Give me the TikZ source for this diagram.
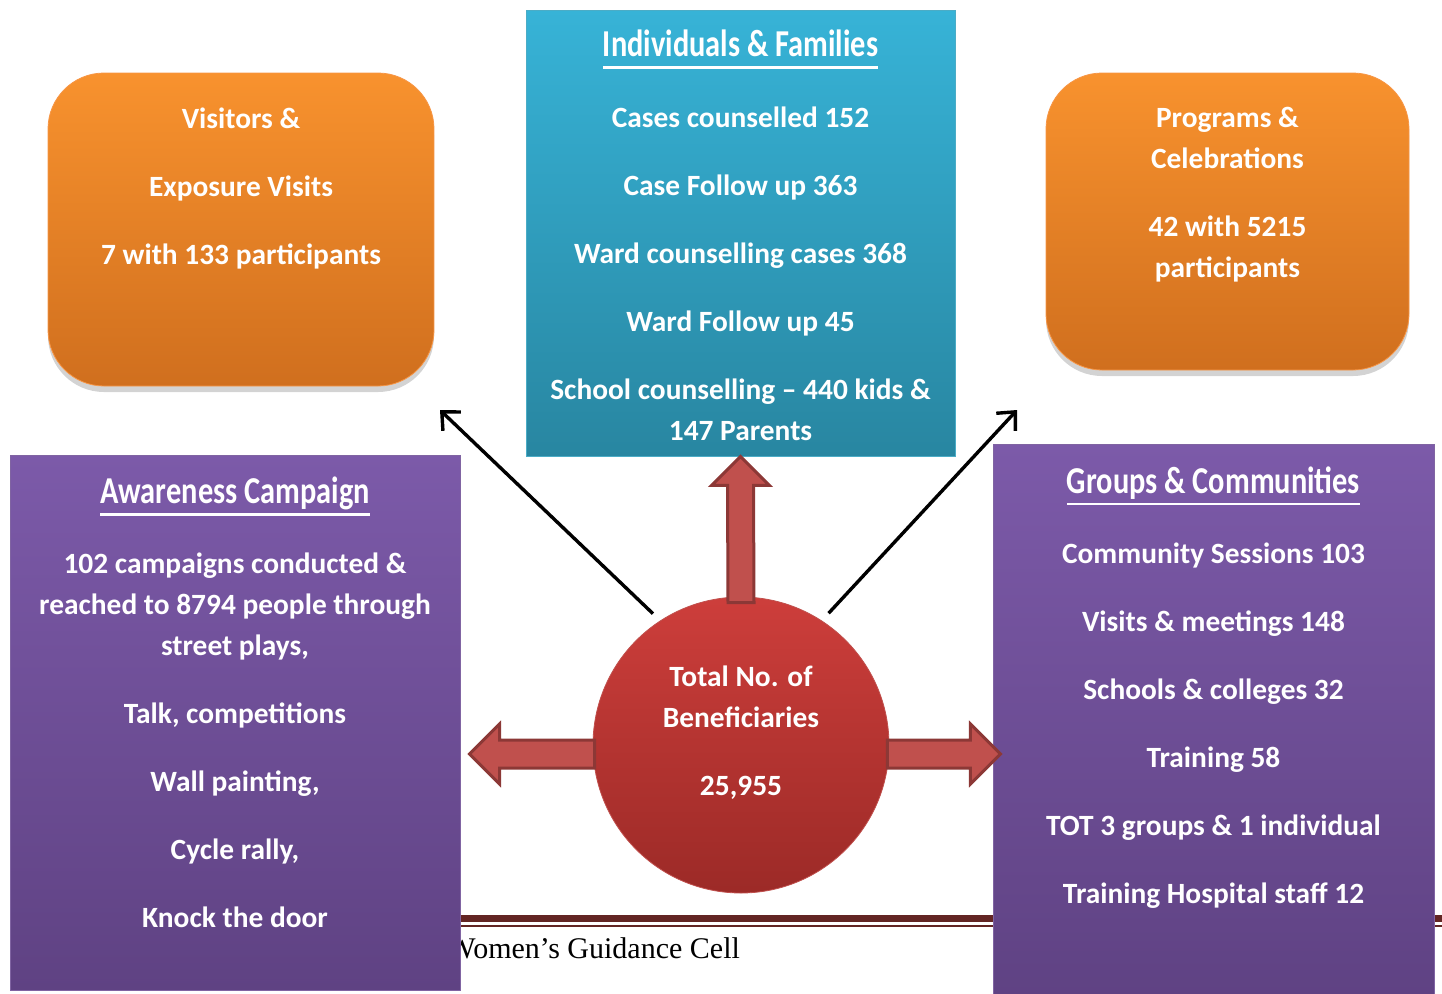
\documentclass[tikz,border=0pt]{standalone}
\usepackage{fontspec}
\setmainfont{Carlito}
\newfontfamily\headfont[FakeStretch=0.8]{Carlito}
\newfontfamily\footfont{Liberation Serif}
\usepackage{tikz}
\usetikzlibrary{positioning,shadows,calc,arrows.meta}

\definecolor{orangetop}{HTML}{F8922E}
\definecolor{orangebot}{HTML}{D06F1E}
\definecolor{orangeedge}{HTML}{F79646}
\definecolor{bluetop}{HTML}{37B3D7}
\definecolor{bluebot}{HTML}{2886A1}
\definecolor{blueedge}{HTML}{4BACC6}
\definecolor{purpletop}{HTML}{7C5AA9}
\definecolor{purplebot}{HTML}{5F4283}
\definecolor{purpleedge}{HTML}{8064A2}
\definecolor{redtop}{HTML}{CD3E3B}
\definecolor{redbot}{HTML}{9C2A27}
\definecolor{rededge}{HTML}{C0504D}
\definecolor{arrowfill}{HTML}{C0504D}
\definecolor{arrowedge}{HTML}{8C3836}
\definecolor{footline}{HTML}{632523}

\newcommand\headline[1]{{\setbox0\hbox{#1}\rlap{\rule[-6pt]{\wd0}{1.3pt}}\box0}}

\begin{document}
\begin{tikzpicture}[x=0.5pt,y=-0.5pt,>={Straight Barb[length=7pt,width=13pt]},
                    orangebox/.style={rounded corners=28pt,top color=orangetop,bottom color=orangebot,
                      draw=orangeedge,drop shadow={opacity=0.35,shadow xshift=0pt,shadow yshift=-3pt}},
                    bluebox/.style={top color=bluetop,bottom color=bluebot,draw=blueedge},
                    purplebox/.style={top color=purpletop,bottom color=purplebot,draw=purpleedge},
                    redcircle/.style={circle,top color=redtop,bottom color=redbot,draw=rededge},
                    bodytext/.style={text=white,font=\fontsize{14.7}{20.5}\selectfont\bfseries,
                      align=center,inner sep=0pt},
                    headtext/.style={text=white,font=\fontsize{19}{24}\selectfont\headfont\bfseries,
                      inner sep=0pt},
                    fatarrow/.style={fill=arrowfill,draw=arrowedge,line width=1.5pt},
                    thinarrow/.style={->,line width=1.7pt,shorten <=5pt}]
  \useasboundingbox (0,0) rectangle (1442,993);

  % footer
  \draw[footline,line width=3.5pt] (460,918.5) -- (1442,918.5);
  \draw[footline,line width=1pt] (460,926) -- (1442,926);
  \node[font=\footfont\fontsize{15}{18}\selectfont,anchor=base west,inner sep=0pt]
       (cell) at (447,958) {Women’s Guidance Cell};

  % boxes
  \node[orangebox,minimum width=193pt,minimum height=156.5pt] (visit) at (241,229.5) {};
  \node[orangebox,minimum width=181.5pt,minimum height=148.5pt] (prog) at (1227.5,221.5) {};
  \node[bluebox,minimum width=214.5pt,minimum height=223pt] (ind) at (740.5,233) {};
  \node[purplebox,minimum width=225pt,minimum height=267.5pt] (aware) at (235,722.5) {};
  \node[purplebox,minimum width=220.5pt,minimum height=277pt] (group) at (1213.5,721.5) {};
  \node[redcircle,minimum size=148pt] (total) at (741,745) {};

  % texts
  \node[bodytext,below=17.5pt of visit.north] (visittxt)
       {Visitors \&\\[13.5pt] Exposure Visits\\[13.5pt] 7 with 133 participants};
  \node[bodytext,below=17pt of prog.north] (progtxt)
       {Programs \&\\ Celebrations\\[13.5pt] 42 with 5215\\ participants};
  \node[headtext,below=10pt of ind.north] (indhead) {\headline{Individuals \& Families}};
  \node[bodytext,below=48.5pt of ind.north] (indtxt)
       {Cases counselled 152\\[13.5pt] Case Follow up 363\\[13.5pt] Ward counselling cases 368\\[13.5pt]
        Ward Follow up 45\\[13.5pt] School counselling -- 440 kids \&\\ 147 Parents};
  \node[headtext,below=11pt of aware.north] (awarehead) {\headline{Awareness Campaign}};
  \node[bodytext,below=49pt of aware.north] (awaretxt)
       {102 campaigns conducted \&\\ reached to 8794 people through\\ street plays,\\[13.5pt]
        Talk, competitions\\[13.5pt] Wall painting,\\[13.5pt] Cycle rally,\\[13.5pt] Knock the door};
  \node[headtext,below=11pt of group.north] (grouphead) {\headline{Groups \& Communities}};
  \node[bodytext,below=49pt of group.north] (grouptxt)
       {Community Sessions 103\\[13.5pt] Visits \& meetings 148\\[13.5pt] Schools \& colleges 32\\[13.5pt]
        Training 58\\[13.5pt] TOT 3 groups \& 1 individual\\[13.5pt] Training Hospital staff 12};
  \node[bodytext,below=34.5pt of total.north] (totaltxt)
       {Total No. of\\ Beneficiaries\\[13.5pt] 25,955};

  % block arrows
  \draw[fatarrow] ($(total.north)+(-13,6)$) -- ($(ind.south)+(-13,29)$) -- ++(-16,0) -- (ind.south)
       -- ($(ind.south)+(29,29)$) -- ++(-16,0) -- ($(total.north)+(13,6)$) -- cycle;
  \draw[fatarrow] ($(total.west)+(2,-5)$) -- ++(-95,0) -- ++(0,-16) -- ++(-30,30) -- ++(30,30)
       -- ++(0,-16) -- ++(95,0) -- cycle;
  \draw[fatarrow] ($(total.east)+(-2,-5)$) -- ++(83,0) -- ++(0,-16) -- ++(30,30) -- ++(-30,30)
       -- ++(0,-16) -- ++(-83,0) -- cycle;

  % thin arrows
  \coordinate (visitend) at (440,410);
  \coordinate (progend) at (1017,410);
  \draw[thinarrow] (total.123) -- (visitend);
  \draw[thinarrow] (total.57) -- (progend);
\end{tikzpicture}
\end{document}
